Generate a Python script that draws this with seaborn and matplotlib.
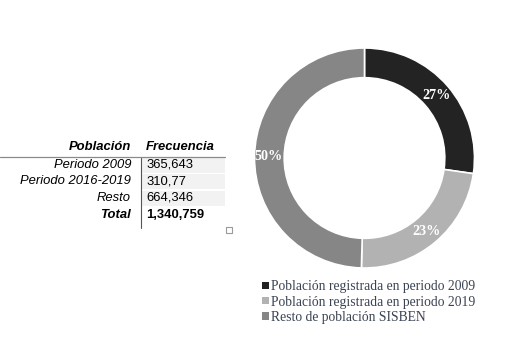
import matplotlib
matplotlib.use("Agg")
import matplotlib.pyplot as plt
import matplotlib.patches as mpatches
import seaborn as sns

# Data
poblacion = ["Periodo 2009", "Periodo 2016-2019", "Resto"]
frecuencia = [365643, 310770, 664346]
frecuencia_txt = ["365,643", "310,77", "664,346"]
total_txt = "1,340,759"
leyenda = ["Población registrada en periodo 2009",
           "Población registrada en periodo 2019",
           "Resto de población SISBEN"]
colores = ["#232323", "#b2b2b2", "#868686"]

sns.set_theme(style="white")
plt.rcParams["font.family"] = ["Liberation Sans", "DejaVu Sans"]

W, H = 515, 348
fig = plt.figure(figsize=(W / 100, H / 100), dpi=100)

# Background axes in pixel coordinates for the table
bg = fig.add_axes([0, 0, 1, 1])
bg.set_xlim(0, W)
bg.set_ylim(H, 0)
bg.axis("off")

fs = 9.35
bg.text(131, 147, "Población", ha="right", va="center", fontsize=fs,
        fontweight="bold", fontstyle="italic", color="black")
bg.text(146, 147, "Frecuencia", ha="left", va="center", fontsize=fs,
        fontweight="bold", fontstyle="italic", color="black")
bg.plot([0, 225], [157, 157], color="#8a8a8a", lw=0.9)
bg.plot([140.5, 140.5], [157.5, 228], color="#555555", lw=0.8)

row_y = [164.5, 181, 198]
for name, val, y in zip(poblacion, frecuencia_txt, row_y):
    bg.add_patch(mpatches.Rectangle((141.5, y - 7), 83, 15,
                                    facecolor="#f2f2f2", edgecolor="none"))
    bg.text(131, y, name, ha="right", va="center", fontsize=fs,
            fontstyle="italic", color="black")
    bg.text(146, y, val, ha="left", va="center", fontsize=fs, color="black")
bg.text(131, 215, "Total", ha="right", va="center", fontsize=fs,
        fontweight="bold", fontstyle="italic", color="black")
bg.text(146, 215, total_txt, ha="left", va="center", fontsize=fs,
        fontweight="bold", color="black")
bg.add_patch(mpatches.Rectangle((226, 227), 6, 6, facecolor="white",
                                edgecolor="#9a9a9a", lw=0.8))

# Donut chart
cx, cy, r = 364.5, 158, 110
ax = fig.add_axes([(cx - r) / W, (H - cy - r) / H, 2 * r / W, 2 * r / H])
wedges, _, autotexts = ax.pie(
    frecuencia, colors=colores, startangle=90, counterclock=False,
    radius=1, autopct=lambda p: f"{p:.0f}%", pctdistance=0.87,
    wedgeprops=dict(width=0.27, edgecolor="white", linewidth=1.2),
    textprops=dict(color="white", fontsize=10.2, fontweight="bold",
                   family="Liberation Serif"))
ax.set_aspect("equal")
ax.set_xlim(-1, 1)
ax.set_ylim(-1, 1)
ax.axis("off")

leg = fig.legend(wedges, leyenda, loc="upper left",
                 bbox_to_anchor=(250 / W, 1 - 268 / H),
                 frameon=False, handlelength=0.46, handleheight=0.46,
                 handletextpad=0.15, labelspacing=0.17,
                 prop=dict(family="Liberation Serif", size=9.8))
for t in leg.get_texts():
    t.set_color("#3b4353")
for h in leg.legend_handles:
    h.set_edgecolor("none")

fig.savefig("out.png", dpi=100)
